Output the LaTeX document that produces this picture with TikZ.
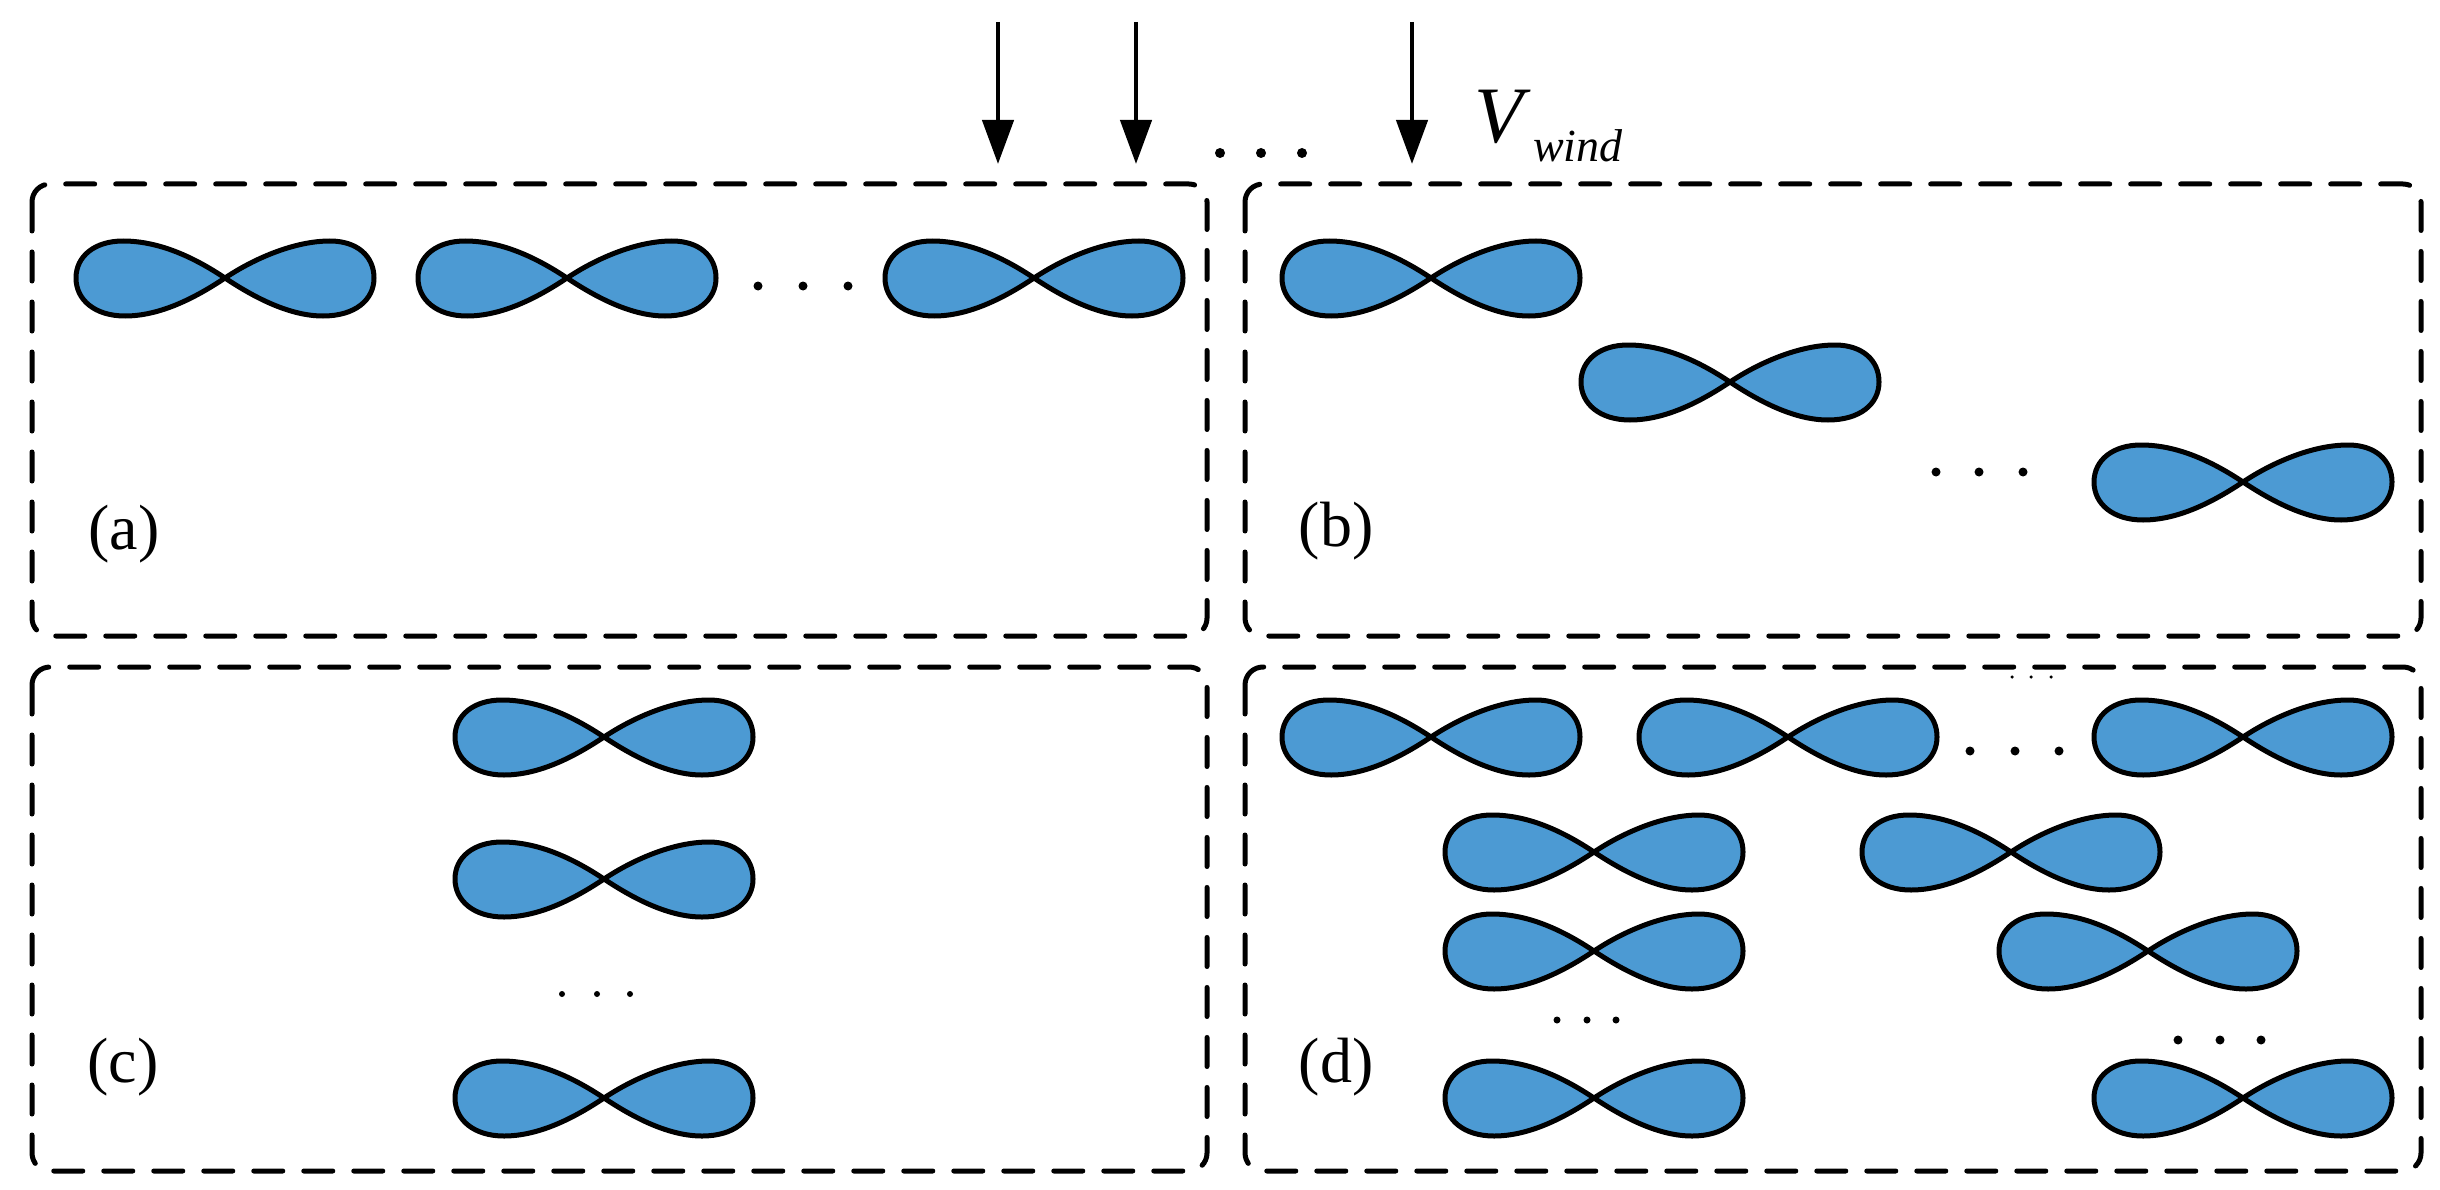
\documentclass[tikz,border=0pt]{standalone}
\usepackage{fontspec}
\setmainfont{Liberation Serif}
\usetikzlibrary{arrows.meta}
\definecolor{lobe}{HTML}{4C9AD3}
\tikzset{
  bowtie/.pic={
    \path[fill=lobe,draw=black,line width=5pt,line join=round]
      (0,0) .. controls (-30,-20) and (-65,-37) .. (-102,-37)
      .. controls (-130,-37) and (-149,-22) .. (-149,0)
      .. controls (-149,22) and (-130,38) .. (-100,38)
      .. controls (-65,38) and (-30,20) .. (0,0)
      .. controls (30,-20) and (70,-37) .. (105,-37)
      .. controls (132,-37) and (149,-22) .. (149,0)
      .. controls (149,22) and (130,38) .. (98,38)
      .. controls (65,38) and (30,20) .. (0,0) -- cycle;
  },
  panel/.style={draw=black,line width=5pt,rounded corners=18pt,line cap=round,dash pattern=on 29pt off 21pt},
  wind/.style={draw=black,line width=4.5pt,-{Triangle[length=44pt,width=31pt]}},
  dotmark/.style={fill=black,circle,inner sep=0pt,minimum size=#1},
  caption/.style={inner sep=0pt,font=\fontsize{64}{68}\selectfont},
}
\begin{document}
\begin{tikzpicture}[x=1pt,y=-1pt]
\useasboundingbox (0,0) rectangle (2440,1190);
% panels
\draw[panel] (32,184) rectangle (1207,636);
\draw[panel] (1245,184) rectangle (2421,636);
\draw[panel] (32,667) rectangle (1207,1171);
\draw[panel] (1245,667) rectangle (2421,1171);
% wind arrows
\coordinate (w1s) at (998,22);   \coordinate (w1e) at (998,164);
\coordinate (w2s) at (1136,22);  \coordinate (w2e) at (1136,164);
\coordinate (w3s) at (1412,22);  \coordinate (w3e) at (1412,164);
\draw[wind] (w1s) -- (w1e);
\draw[wind] (w2s) -- (w2e);
\draw[wind] (w3s) -- (w3e);
\node[inner sep=0pt,anchor=base west,font=\fontsize{80}{84}\selectfont\itshape] (vw) at (1474,143) {V};
\node[inner sep=0pt,anchor=base west,font=\fontsize{46}{50}\selectfont\itshape] (vs) at (1533,162) {wind};
% (a)
\pic (a1) at (225,278) {bowtie};
\pic (a2) at (567,278) {bowtie};
\pic (a3) at (1034,278) {bowtie};
% (b)
\pic (b1) at (1431,278) {bowtie};
\pic (b2) at (1730,382) {bowtie};
\pic (b3) at (2243,482) {bowtie};
% (c)
\pic (c1) at (604,737) {bowtie};
\pic (c2) at (604,879) {bowtie};
\pic (c3) at (604,1098) {bowtie};
% (d)
\pic (d1) at (1431,737) {bowtie};
\pic (d2) at (1788,737) {bowtie};
\pic (d3) at (2243,737) {bowtie};
\pic (d4) at (1594,852) {bowtie};
\pic (d5) at (2011,852) {bowtie};
\pic (d6) at (1594,951) {bowtie};
\pic (d7) at (2148,951) {bowtie};
\pic (d8) at (1594,1098) {bowtie};
\pic (d9) at (2243,1098) {bowtie};
% dots
\foreach \px/\py/\ps [count=\i] in {
  1220/153/10,1261/153/10,1302/153/10,
  758/286/9,803/286/9,848/286/9,
  1936/472/9,1979/472/9,2023/472/9,
  562/994/6,597/994/6,630/994/6,
  2012/677/3.5,2031/677/3.5,2051/677/3.5,
  1970/751/9,2015/751/9,2059/751/9,
  1557/1020/7,1587/1020/7,1616/1020/7,
  2178/1040/9,2220/1040/9,2261/1040/9}
  \node[dotmark=\ps pt] (dot\i) at (\px,\py) {};
% captions
\node[caption] (la) at (124,534) {(a)};
\node[caption] (lb) at (1336,531) {(b)};
\node[caption] (lc) at (123,1067) {(c)};
\node[caption] (ld) at (1336,1067) {(d)};
\end{tikzpicture}
\end{document}
